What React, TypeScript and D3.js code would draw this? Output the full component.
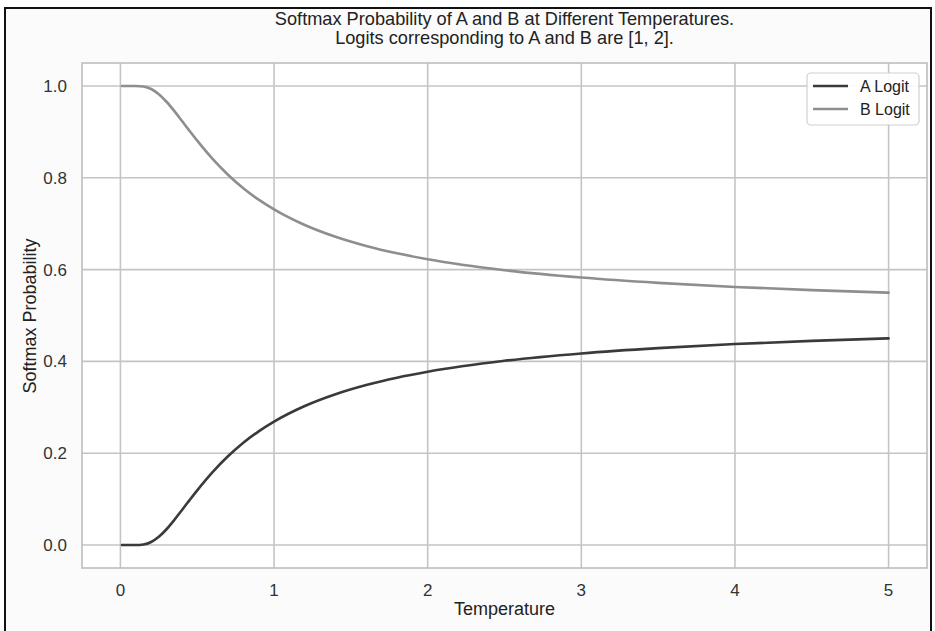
import * as d3 from 'd3';

const temperatures = [0.01, 0.05, 0.1, 0.15, 0.2, 0.25, 0.3, 0.35, 0.4, 0.45, 0.5, 0.6, 0.7, 0.8, 0.9, 1.0, 1.2, 1.4, 1.6, 1.8, 2.0, 2.5, 3.0, 3.5, 4.0, 4.5, 5.0];
const probA = [0, 0, 0.0000, 0.0013, 0.0067, 0.018, 0.0344, 0.0543, 0.0759, 0.0978, 0.1192, 0.1589, 0.1933, 0.2227, 0.2477, 0.2689, 0.3029, 0.3286, 0.3486, 0.3646, 0.3775, 0.4013, 0.4174, 0.429, 0.4378, 0.4447, 0.4502];
const probB = [1, 1, 1.0000, 0.9987, 0.9933, 0.982, 0.9656, 0.9457, 0.9241, 0.9022, 0.8808, 0.8411, 0.8067, 0.7773, 0.7523, 0.7311, 0.6971, 0.6714, 0.6514, 0.6354, 0.6225, 0.5987, 0.5826, 0.571, 0.5622, 0.5553, 0.5498];
const xTicks = [0, 1, 2, 3, 4, 5];
const yTicks = [0, 0.2, 0.4, 0.6, 0.8, 1.0];
const seriesNames = ['A Logit', 'B Logit'];
const seriesColors = ['#3a3a3a', '#8e8e8e'];

const W = 935;
const H = 631;
const frame = { left: 82, right: 927, top: 63, bottom: 568 };
const font = '"Liberation Sans", Arial, sans-serif';

export default function App() {
  const x = d3.scaleLinear().domain([-0.25, 5.25]).range([frame.left, frame.right]);
  const y = d3.scaleLinear().domain([-0.05, 1.05]).range([frame.bottom, frame.top]);

  const line = d3.line<[number, number]>()
    .x(d => x(d[0]))
    .y(d => y(d[1]))
    .curve(d3.curveMonotoneX);

  const series = [probA, probB].map(vals => temperatures.map((t, i) => [t, vals[i]] as [number, number]));
  const midX = (frame.left + frame.right) / 2;

  return (
    <div style={{ position: 'fixed', left: 0, top: 0 }}>
      <svg width={W} height={H} style={{ display: 'block', fontFamily: font }}>
        <rect x={0} y={0} width={W} height={H} fill="#ffffff" />
        <rect x={5} y={8} width={926} height={640} fill="#fbfbfb" stroke="#111" strokeWidth={2} />
        <rect x={frame.left} y={frame.top} width={frame.right - frame.left} height={frame.bottom - frame.top} fill="#ffffff" />

        {xTicks.map(t => (
          <line key={'gx' + t} x1={x(t)} x2={x(t)} y1={frame.top} y2={frame.bottom} stroke="#c4c4c4" strokeWidth={1.6} />
        ))}
        {yTicks.map(t => (
          <line key={'gy' + t} x1={frame.left} x2={frame.right} y1={y(t)} y2={y(t)} stroke="#c4c4c4" strokeWidth={1.6} />
        ))}
        <rect x={frame.left} y={frame.top} width={frame.right - frame.left} height={frame.bottom - frame.top} fill="none" stroke="#bdbdbd" strokeWidth={1.6} />

        {series.map((s, i) => (
          <path key={'s' + i} d={line(s) || ''} fill="none" stroke={seriesColors[i]} strokeWidth={2.6} strokeLinecap="round" />
        ))}

        {xTicks.map(t => (
          <text key={'tx' + t} x={x(t)} y={frame.bottom + 28} textAnchor="middle" fontSize={17} fill="#333">{t}</text>
        ))}
        {yTicks.map(t => (
          <text key={'ty' + t} x={frame.left - 15} y={y(t) + 6} textAnchor="end" fontSize={17} fill="#333">{d3.format('.1f')(t)}</text>
        ))}

        <text x={midX} y={615} textAnchor="middle" fontSize={18} fill="#222">Temperature</text>
        <text transform={`translate(36,316) rotate(-90)`} textAnchor="middle" fontSize={18} fill="#222">Softmax Probability</text>

        <text x={midX} y={25} textAnchor="middle" fontSize={18.2} fill="#222">Softmax Probability of A and B at Different Temperatures.</text>
        <text x={midX} y={44} textAnchor="middle" fontSize={18.2} fill="#222">Logits corresponding to A and B are [1, 2].</text>

        <g>
          <rect x={807} y={73} width={112} height={52} rx={4} fill="#ffffff" fillOpacity={0.9} stroke="#cfcfcf" strokeWidth={1.2} />
          {seriesNames.map((n, i) => (
            <g key={n}>
              <line x1={813} x2={848} y1={86 + i * 23} y2={86 + i * 23} stroke={seriesColors[i]} strokeWidth={2.6} />
              <text x={860} y={92 + i * 23} fontSize={16} fill="#222">{n}</text>
            </g>
          ))}
        </g>
      </svg>
    </div>
  );
}
